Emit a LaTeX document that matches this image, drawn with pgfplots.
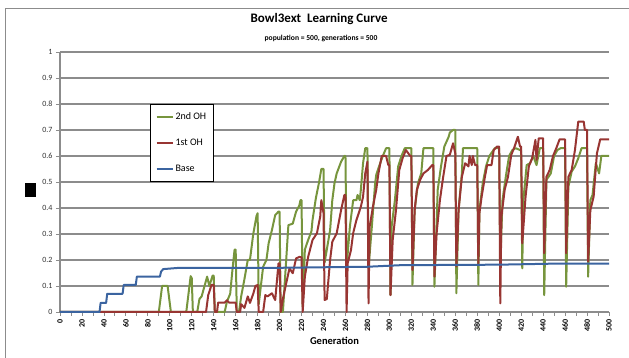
\documentclass[border=0pt]{standalone}
\usepackage{fontspec}
\setmainfont{Carlito}
\usepackage{pgfplots}
\pgfplotsset{compat=1.18}
\definecolor{ogreen}{HTML}{77953D}
\definecolor{ored}{HTML}{983532}
\definecolor{oblue}{HTML}{3B64A0}
\definecolor{gridgray}{HTML}{8C8C8C}
\begin{document}
\begin{tikzpicture}
\path[use as bounding box] (-60pt,-46pt) rectangle (569pt,312pt);
\draw[gridgray, line width=0.9pt] (-55pt,-60pt) -- (-55pt,304pt) -- (580pt,304pt);
\begin{axis}[
  at={(0pt,0pt)}, anchor=south west,
  scale only axis, width=549pt, height=260pt,
  xmin=0, xmax=500, ymin=0, ymax=1,
  xtick={0,20,...,500},
  minor xtick={10,30,...,490},
  ytick={0,0.1,0.2,0.3,0.4,0.5,0.6,0.7,0.8,0.9,1},
  yticklabels={0,0.1,0.2,0.3,0.4,0.5,0.6,0.7,0.8,0.9,1},
  ymajorgrids, grid style={gridgray, line width=1.2pt},
  axis x line*=bottom, axis y line*=left,
  axis line style={gridgray, line width=1.2pt},
  tick style={gridgray, line width=0.8pt},
  tick align=outside, major tick length=4pt, minor tick length=4pt,
  /pgf/number format/assume math mode=true,
  xticklabel style={rotate=90, anchor=east, font=\fontsize{8}{9}\selectfont\bfseries, black},
  yticklabel style={font=\fontsize{8}{9}\selectfont, black!80},
  title={Bowl3ext\ \ Learning Curve},
  title style={at={(axis description cs:0.472,1.104)}, anchor=center, font=\fontsize{13}{15}\selectfont\bfseries},
  xlabel={Generation},
  xlabel style={at={(axis description cs:0.5,-0.1115)}, anchor=center, font=\fontsize{10.5}{12}\selectfont\bfseries},
  ylabel={\rule{11pt}{14pt}},
  ylabel style={at={(axis description cs:-0.0537,0.469)}, anchor=center, rotate=-90},
  legend style={at={(rel axis cs:0.164,0.8)}, anchor=north west, draw=black, line width=1pt, fill=white,
    font=\fontsize{10}{11}\selectfont, inner xsep=5pt, inner ysep=6.5pt, row sep=14pt},
  legend cell align=left,
  legend image code/.code={\draw[#1] (0pt,0pt) -- (16pt,0pt);},
  clip=false,
]
% 2nd OH
\addplot[ogreen, line width=2pt, line join=round, forget plot] coordinates {
(0,0) (90,0) (93,0.10) (98,0.10) (101,0)
(115,0) (119,0.138) (120,0.13) (121,0)
(125,0) (127,0.05) (129,0.06) (134,0.136) (136,0.10) (139,0.14) (140,0.14) (141,0)
(150,0) (152,0.04) (155,0.07) (157,0.16) (159,0.24) (160,0.24) (161,0)
(163,0) (165,0.06) (168,0.127) (171,0.2) (173,0.2) (176,0.3) (179,0.37) (180,0.38) (181,0.03)
(185,0.174) (188,0.2) (190,0.264) (193,0.315) (196,0.373) (199,0.386) (200,0.386) (201,0)
(203,0) (206,0.2) (208,0.334) (212,0.34) (215,0.386) (218,0.41) (219,0.43) (220,0.43) (221,0.02)
(223,0.24) (226,0.277) (229,0.31) (230,0.354) (233,0.437) (236,0.5) (238,0.55) (240,0.55) (241,0.19)
(246,0.315) (248,0.43) (250,0.495) (252,0.533) (256,0.578) (259,0.6) (260,0.6) (261,0.17)
(264,0.328) (267,0.43) (270,0.43) (271,0.45) (273,0.43) (274,0.47) (276,0.572) (278,0.63) (280,0.63) (281,0.168)
(284,0.328) (287,0.495) (288,0.527) (291,0.565) (294,0.6) (297,0.63) (300,0.63) (301,0.065)
(302,0.328) (305,0.43) (308,0.56) (311,0.6) (314,0.63) (320,0.63) (321,0.104)
(323,0.392) (326,0.495) (329,0.533) (331,0.63) (340,0.63) (341,0.097)
(344,0.47) (347,0.56) (350,0.636) (354,0.674) (355,0.69) (358,0.7) (360,0.7) (361,0.072)
(363,0.392) (366,0.533) (367,0.63) (380,0.63) (381,0.104)
(382,0.392) (385,0.495) (388,0.56) (391,0.6) (396,0.63) (400,0.63) (401,0.19)
(403,0.43) (406,0.52) (409,0.6) (412,0.623) (415,0.63) (419,0.623) (420,0.62) (421,0.168)
(422,0.43) (425,0.565) (428,0.572) (431,0.6) (434,0.565) (437,0.63) (440,0.63) (441,0.065)
(443,0.508) (447,0.533) (450,0.6) (453,0.623) (456,0.63) (460,0.63) (461,0.097)
(463,0.482) (466,0.54) (469,0.56) (472,0.591) (475,0.63) (480,0.63) (481,0.136)
(483,0.43) (485,0.45) (488,0.572) (491,0.533) (493,0.6) (500,0.6)
};
% 1st OH
\addplot[ored, line width=2pt, line join=round, forget plot] coordinates {
(0,0) (133,0) (135,0.065) (138,0.104) (140,0.104) (141,0) (143,0) (144,0.036) (150,0.036) (152,0.045) (154,0.036) (160,0.036) (161,0)
(164,0) (165,0.03) (168,0.016) (171,0.06) (173,0.035) (176,0.07) (178,0.1) (180,0.104) (181,0)
(185,0) (187,0.065) (189,0.06) (193,0.072) (196,0.046) (199,0.187) (200,0.187) (201,0)
(203,0.05) (206,0.11) (209,0.168) (212,0.149) (215,0.206) (218,0.212) (220,0.21) (221,0)
(223,0.136) (226,0.212) (230,0.277) (234,0.303) (237,0.367) (238,0.43) (240,0.38) (241,0.046)
(243,0.05) (246,0.2) (248,0.27) (252,0.303) (256,0.392) (259,0.45) (260,0.45) (261,0)
(262,0.187) (265,0.238) (267,0.303) (270,0.354) (273,0.392) (274,0.405) (276,0.443) (278,0.533) (280,0.578) (281,0.033)
(282,0.328) (285,0.405) (288,0.47) (290,0.533) (293,0.6) (297,0.6) (299,0.565) (300,0.565) (301,0.065)
(303,0.277) (306,0.392) (309,0.546) (312,0.591) (315,0.623) (319,0.6) (320,0.6) (321,0.161)
(323,0.392) (325,0.47) (328,0.508) (331,0.533) (335,0.546) (339,0.565) (340,0.565) (341,0.136)
(343,0.303) (346,0.43) (349,0.52) (352,0.6) (355,0.604) (358,0.649) (360,0.61) (361,0.175)
(363,0.392) (366,0.52) (369,0.572) (372,0.56) (373,0.6) (375,0.565) (376,0.6) (378,0.565) (380,0.565) (381,0.187)
(382,0.38) (384,0.443) (387,0.52) (389,0.565) (393,0.565) (395,0.623) (398,0.636) (400,0.636) (401,0.033)
(402,0.367) (405,0.47) (408,0.52) (411,0.604) (414,0.636) (417,0.674) (419,0.636) (420,0.636) (421,0.264)
(424,0.443) (427,0.56) (430,0.591) (433,0.662) (434,0.585) (436,0.668) (440,0.668) (441,0.226)
(443,0.52) (446,0.546) (449,0.6) (452,0.63) (455,0.664) (460,0.664) (461,0.226)
(463,0.52) (466,0.546) (469,0.623) (472,0.732) (477,0.732) (478,0.7) (480,0.7) (481,0.194)
(483,0.392) (486,0.443) (489,0.61) (492,0.664) (500,0.664)
};
% Base
\addplot[oblue, line width=2pt, line join=round, forget plot] coordinates {
(0,0) (36,0) (37,0.035) (42,0.035) (43,0.07) (57,0.07) (58,0.104) (69,0.104) (70,0.136) (91,0.136) (92,0.155) (94,0.165) (109,0.17) (200,0.17) (280,0.174) (310,0.18) (400,0.182) (450,0.186) (500,0.186)
};
\addlegendimage{ogreen, line width=2pt}
\addlegendentry{2nd OH}
\addlegendimage{ored, line width=2pt}
\addlegendentry{1st OH}
\addlegendimage{oblue, line width=2pt}
\addlegendentry{Base}
\end{axis}
\node[font=\fontsize{7.6}{9}\selectfont\bfseries] at (261pt,274pt) {population = 500, generations = 500};
\end{tikzpicture}
\end{document}
